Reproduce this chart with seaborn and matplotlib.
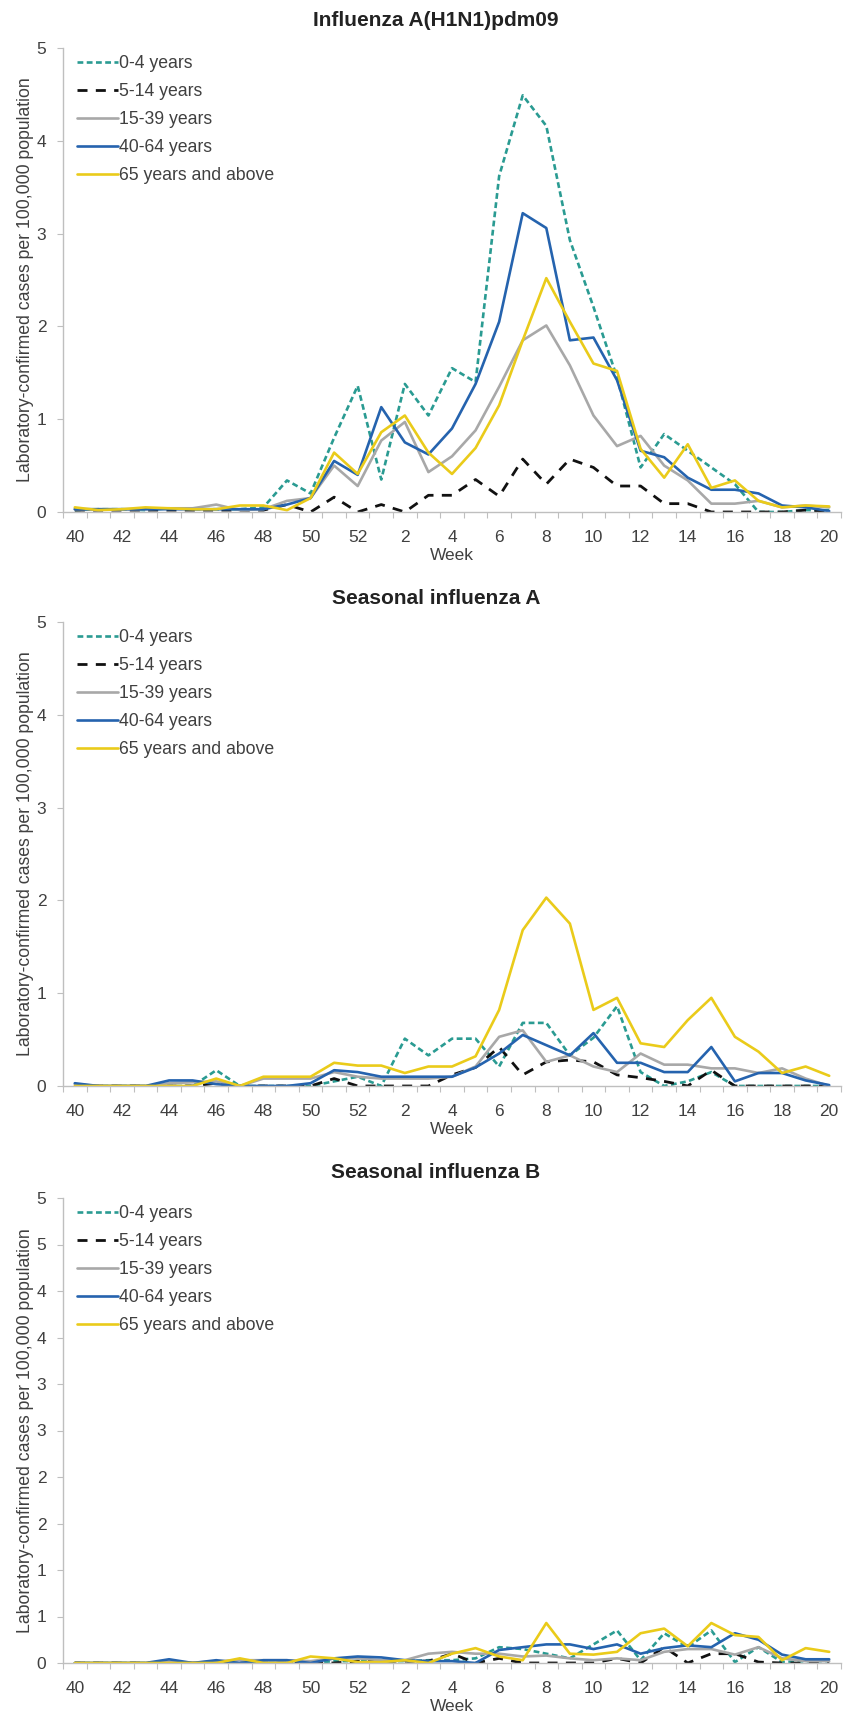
import numpy as np
import pandas as pd
import matplotlib
matplotlib.use("Agg")
import matplotlib.pyplot as plt
import seaborn as sns

# ---------------- data ----------------
weeks = [40, 41, 42, 43, 44, 45, 46, 47, 48, 49, 50, 51, 52,
         1, 2, 3, 4, 5, 6, 7, 8, 9, 10, 11, 12, 13, 14, 15, 16, 17, 18, 19, 20]
groups = ["0-4 years", "5-14 years", "15-39 years", "40-64 years", "65 years and above"]
titles = ["Influenza A(H1N1)pdm09", "Seasonal influenza A", "Seasonal influenza B"]

h1_04 = [0.02, 0.03, 0.03, 0.02, 0.04, 0.03, 0.03, 0.03, 0.05, 0.34, 0.20, 0.80, 1.36, 0.35, 1.38, 1.04, 1.55,
         1.40, 3.62, 4.49, 4.16, 2.93, 2.21, 1.45, 0.48, 0.84, 0.66, 0.48, 0.30, 0.00, 0.00, 0.02, 0.02]
h1_514 = [0.02, 0.02, 0.02, 0.02, 0.02, 0.02, 0.02, 0.02, 0.02, 0.08, 0.00, 0.16, 0.00, 0.08, 0.00, 0.18, 0.18,
          0.35, 0.17, 0.57, 0.30, 0.57, 0.48, 0.28, 0.28, 0.09, 0.09, 0.00, 0.00, 0.00, 0.00, 0.02, 0.00]
h1_1539 = [0.03, 0.03, 0.03, 0.03, 0.04, 0.04, 0.08, 0.02, 0.03, 0.12, 0.15, 0.50, 0.28, 0.77, 0.97, 0.43, 0.60,
           0.88, 1.35, 1.85, 2.01, 1.58, 1.04, 0.71, 0.82, 0.50, 0.34, 0.09, 0.09, 0.12, 0.05, 0.07, 0.05]
h1_4064 = [0.03, 0.03, 0.03, 0.03, 0.03, 0.03, 0.03, 0.03, 0.03, 0.08, 0.15, 0.55, 0.40, 1.13, 0.75, 0.62, 0.90,
           1.38, 2.05, 3.22, 3.06, 1.85, 1.88, 1.42, 0.66, 0.59, 0.37, 0.24, 0.24, 0.20, 0.07, 0.05, 0.01]
h1_65 = [0.05, 0.02, 0.03, 0.05, 0.04, 0.03, 0.03, 0.07, 0.07, 0.02, 0.15, 0.64, 0.41, 0.86, 1.04, 0.64, 0.41,
         0.69, 1.15, 1.85, 2.52, 2.05, 1.60, 1.52, 0.68, 0.37, 0.73, 0.26, 0.34, 0.12, 0.05, 0.07, 0.06]

sa_04 = [0.00, 0.00, 0.00, 0.00, 0.00, 0.00, 0.17, 0.00, 0.00, 0.00, 0.00, 0.05, 0.10, 0.00, 0.51, 0.33, 0.51,
         0.51, 0.21, 0.68, 0.68, 0.33, 0.52, 0.86, 0.15, 0.00, 0.05, 0.15, 0.00, 0.00, 0.00, 0.00, 0.00]
sa_514 = [0.00, 0.00, 0.00, 0.00, 0.00, 0.00, 0.03, 0.00, 0.00, 0.00, 0.00, 0.08, 0.00, 0.00, 0.00, 0.00, 0.12,
          0.20, 0.42, 0.12, 0.26, 0.28, 0.26, 0.12, 0.09, 0.05, 0.00, 0.17, 0.00, 0.00, 0.00, 0.00, 0.00]
sa_1539 = [0.02, 0.00, 0.00, 0.00, 0.03, 0.04, 0.05, 0.00, 0.08, 0.08, 0.08, 0.15, 0.10, 0.08, 0.08, 0.08, 0.10,
           0.21, 0.53, 0.60, 0.26, 0.33, 0.21, 0.15, 0.35, 0.23, 0.23, 0.19, 0.19, 0.14, 0.19, 0.08, 0.00]
sa_4064 = [0.03, 0.00, 0.00, 0.00, 0.06, 0.06, 0.02, 0.00, 0.00, 0.00, 0.03, 0.17, 0.15, 0.10, 0.10, 0.10, 0.10,
           0.20, 0.35, 0.55, 0.44, 0.33, 0.57, 0.25, 0.25, 0.15, 0.15, 0.42, 0.05, 0.14, 0.14, 0.06, 0.01]
sa_65 = [0.00, 0.00, 0.00, 0.00, 0.00, 0.00, 0.08, 0.00, 0.10, 0.10, 0.10, 0.25, 0.22, 0.22, 0.14, 0.21, 0.21,
         0.32, 0.82, 1.68, 2.03, 1.75, 0.82, 0.95, 0.46, 0.42, 0.71, 0.95, 0.53, 0.37, 0.14, 0.21, 0.11]

sb_04 = [0.00, 0.00, 0.00, 0.00, 0.00, 0.00, 0.00, 0.00, 0.00, 0.00, 0.00, 0.02, 0.02, 0.02, 0.02, 0.03, 0.03,
         0.05, 0.17, 0.15, 0.10, 0.05, 0.20, 0.35, 0.03, 0.32, 0.17, 0.35, 0.01, 0.17, 0.01, 0.02, 0.02]
sb_514 = [0.00, 0.00, 0.00, 0.00, 0.00, 0.00, 0.00, 0.00, 0.00, 0.00, 0.00, 0.00, 0.02, 0.02, 0.02, 0.02, 0.10,
          0.00, 0.05, 0.00, 0.00, 0.00, 0.00, 0.05, 0.00, 0.17, 0.00, 0.10, 0.10, 0.01, 0.00, 0.00, 0.00]
sb_1539 = [0.00, 0.00, 0.00, 0.00, 0.02, 0.00, 0.02, 0.03, 0.03, 0.03, 0.02, 0.05, 0.05, 0.03, 0.03, 0.10, 0.12,
           0.10, 0.10, 0.07, 0.08, 0.05, 0.03, 0.05, 0.03, 0.12, 0.15, 0.15, 0.09, 0.17, 0.05, 0.02, 0.02]
sb_4064 = [0.00, 0.00, 0.00, 0.00, 0.04, 0.00, 0.03, 0.00, 0.03, 0.03, 0.00, 0.05, 0.07, 0.06, 0.03, 0.02, 0.02,
           0.00, 0.14, 0.17, 0.20, 0.20, 0.15, 0.20, 0.10, 0.16, 0.19, 0.17, 0.32, 0.25, 0.09, 0.04, 0.04]
sb_65 = [0.00, 0.00, 0.00, 0.00, 0.00, 0.00, 0.00, 0.05, 0.00, 0.00, 0.07, 0.05, 0.01, 0.01, 0.03, 0.00, 0.10,
         0.16, 0.07, 0.03, 0.43, 0.10, 0.09, 0.12, 0.32, 0.37, 0.18, 0.43, 0.30, 0.28, 0.03, 0.16, 0.12]

panel_data = [
    [h1_04, h1_514, h1_1539, h1_4064, h1_65],
    [sa_04, sa_514, sa_1539, sa_4064, sa_65],
    [sb_04, sb_514, sb_1539, sb_4064, sb_65],
]
panel3_ytick_labels = ["0", "1", "1", "2", "2", "3", "3", "4", "4", "5", "5"]
ylabel = "Laboratory-confirmed cases per 100,000 population"

# ---------------- styles ----------------
colors = ["#2A9B92", "#111111", "#A8A8A8", "#2563AE", "#EACB1A"]
widths = [1.9, 2.0, 1.9, 1.9, 1.9]
dash_styles = [(2.2, 1.3), (3.6, 3.0), None, None, None]

sns.set_theme(style="white")
plt.rcParams["font.family"] = ["Liberation Sans", "DejaVu Sans"]

W, H = 845, 1711
fig = plt.figure(figsize=(W / 100, H / 100), dpi=100)

boxes = [(48, 512), (622, 1086), (1198, 1663)]
title_y = [21, 598, 1172]
left_px, right_px = 63, 841

pos = list(range(len(weeks)))
spine_col = "#BFBFBF"
text_col = "#404040"

for p, ((top, bot), data) in enumerate(zip(boxes, panel_data)):
    ax = fig.add_axes([left_px / W, 1 - bot / H, (right_px - left_px) / W, (bot - top) / H])
    for g, vals, c, lw, ds in zip(groups, data, colors, widths, dash_styles):
        df = pd.DataFrame({"pos": pos, "value": vals})
        sns.lineplot(data=df, x="pos", y="value", ax=ax, color=c, linewidth=lw, label=g)
        line = ax.lines[-1]
        if ds is not None:
            line.set_dashes(ds)
            line.set_dash_capstyle("butt")
    ax.set_xlim(-0.5, len(weeks) - 0.5)
    ax.set_ylim(0, 5)
    ax.set_xticks(pos[::2])
    ax.set_xticklabels([str(w) for w in weeks[::2]])
    ax.set_xticks(np.arange(-0.5, len(weeks), 1), minor=True)
    if p == 2:
        ax.set_yticks(np.arange(0, 5.01, 0.5))
        ax.set_yticklabels(panel3_ytick_labels)
    else:
        ax.set_yticks(range(0, 6))
    ax.tick_params(axis="x", which="major", length=0, pad=13, labelsize=12.5, labelcolor=text_col)
    ax.tick_params(axis="x", which="minor", length=4, width=0.8, color=spine_col, direction="out", bottom=True)
    ax.tick_params(axis="y", which="major", length=4, width=0.8, color=spine_col, direction="out",
                   left=True, pad=8, labelsize=12.5, labelcolor=text_col)
    for s in ["top", "right"]:
        ax.spines[s].set_visible(False)
    for s in ["left", "bottom"]:
        ax.spines[s].set_color(spine_col)
        ax.spines[s].set_linewidth(1.0)
    ax.set_xlabel("Week", fontsize=12.5, color=text_col, labelpad=2)
    ax.set_ylabel(ylabel, fontsize=12.7, color=text_col, labelpad=2)
    ax.grid(False)
    leg = ax.legend(loc="upper left", bbox_to_anchor=(0.018, 0.985), frameon=False,
                    fontsize=12.7, handlelength=2.3, handletextpad=0.1, labelspacing=0.62,
                    borderaxespad=0, borderpad=0)
    for t in leg.get_texts():
        t.set_color(text_col)
    fig.text(436 / W, 1 - title_y[p] / H, titles[p], ha="center", va="center",
             fontsize=15, fontweight="bold", color="#222222")

fig.savefig("out.png", dpi=100)
